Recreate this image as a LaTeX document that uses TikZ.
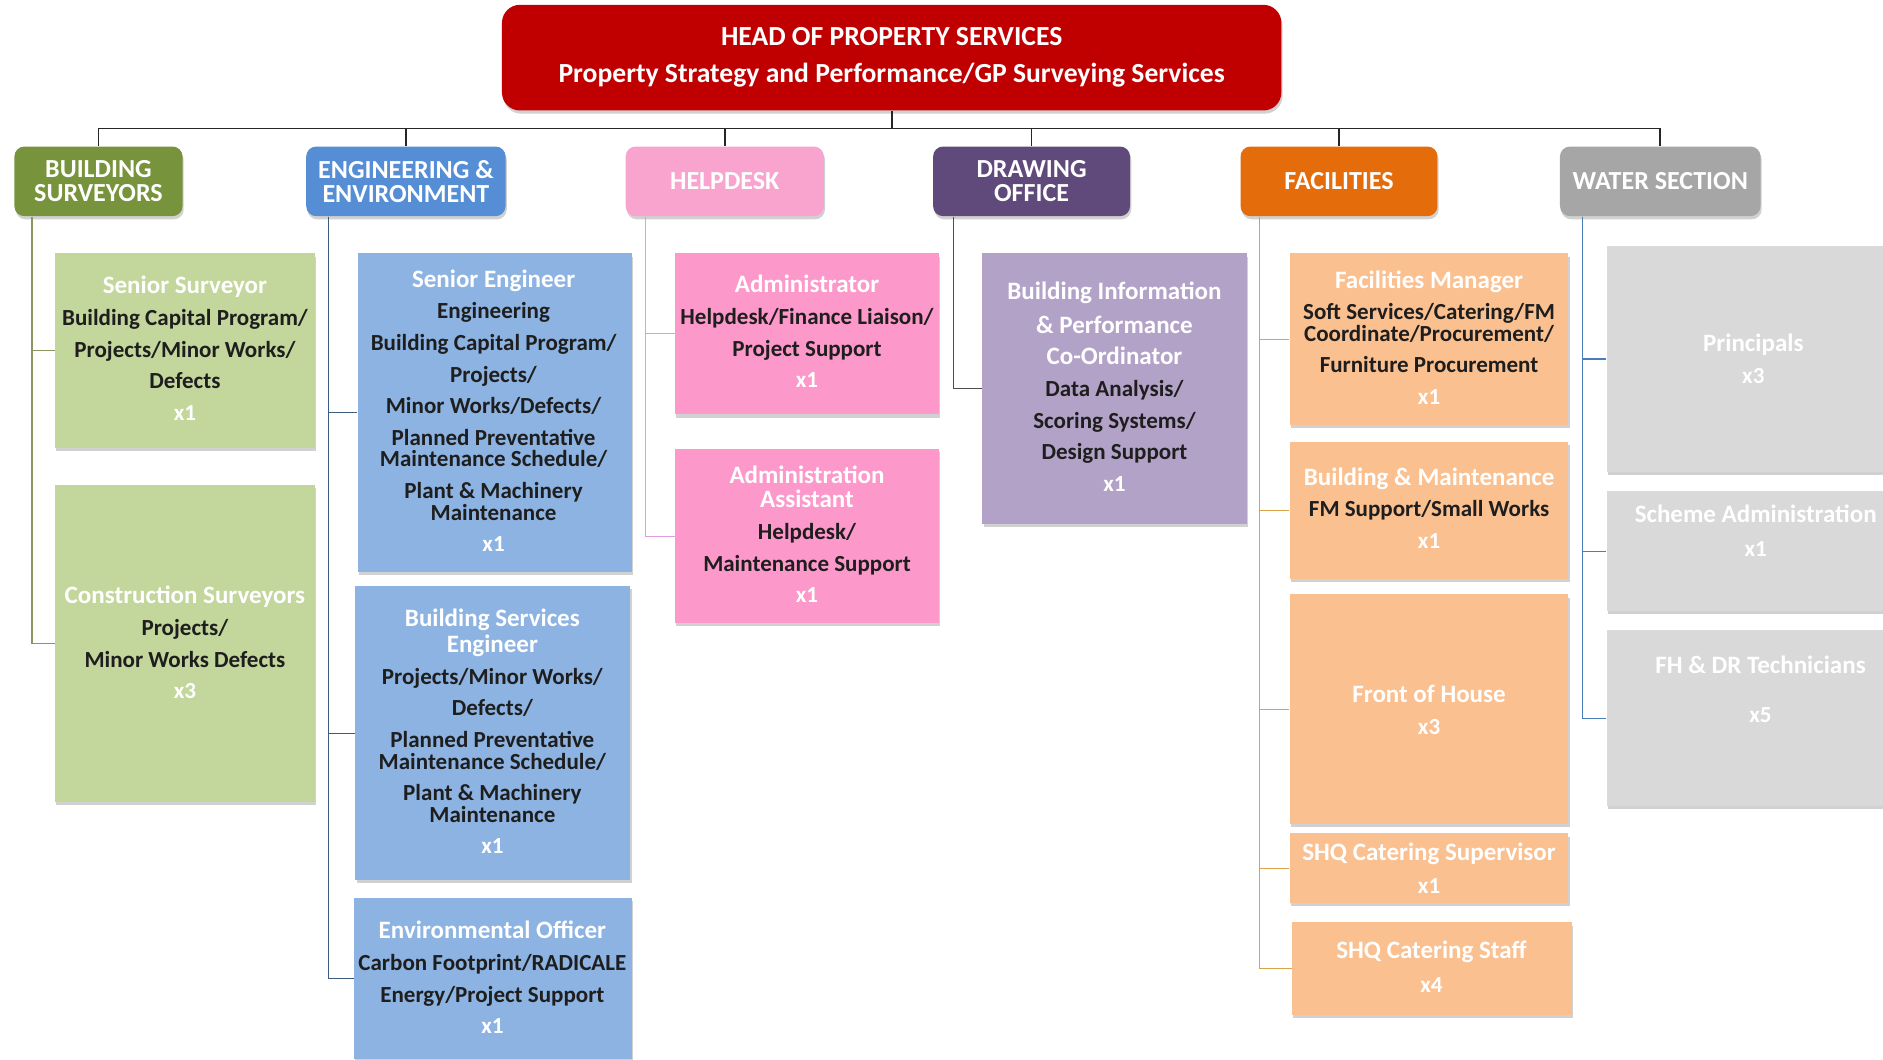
\documentclass[tikz,border=0pt]{standalone}
\usepackage{fontspec}
\setmainfont{Carlito}
\usetikzlibrary{calc, fit, shadows, positioning}

\definecolor{headred}{HTML}{C00000}
\definecolor{bsdark}{HTML}{77933C}
\definecolor{bslight}{HTML}{C3D69B}
\definecolor{eedark}{HTML}{558ED5}
\definecolor{eelight}{HTML}{8DB3E2}
\definecolor{hddark}{HTML}{F9A3CF}
\definecolor{hdlight}{HTML}{FC98CA}
\definecolor{dodark}{HTML}{604A7B}
\definecolor{dolight}{HTML}{B3A2C7}
\definecolor{facdark}{HTML}{E46C0A}
\definecolor{faclight}{HTML}{FAC090}
\definecolor{wsdark}{HTML}{A6A6A6}
\definecolor{wslight}{HTML}{D9D9D9}
\definecolor{inktext}{HTML}{1E1E1E}
\definecolor{busgray}{HTML}{262626}
\definecolor{bsline}{HTML}{8C9660}
\definecolor{eeline}{HTML}{3E5C80}
\definecolor{hdline}{HTML}{E29AE0}
\definecolor{doline}{HTML}{4D4D4D}
\definecolor{facline}{HTML}{D9A24A}
\definecolor{wsline}{HTML}{4A7EBB}

\newcommand{\ttl}[1]{{\fontsize{12.5}{12}\selectfont\color{white}#1}}
\newcommand{\cnt}[1]{\textcolor{white}{#1}}

\tikzset{
  boxshadow/.style={drop shadow={shadow xshift=0.6pt, shadow yshift=-1.6pt, opacity=0.3, fill=black!60}},
  headbox/.style={inner sep=0pt, rounded corners=9pt, fill=headred, boxshadow},
  deptbox/.style={inner sep=0pt, rounded corners=5pt, boxshadow},
  rolebox/.style={inner sep=0pt, boxshadow},
  headtxt/.style={align=center, text=white, font=\fontsize{13.8}{14}\selectfont\bfseries},
  depttxt/.style={align=center, text=white, font=\fontsize{13}{12}\selectfont\bfseries},
  roletxt/.style={align=center, text=inktext, inner sep=0pt, font=\fontsize{11.5}{10.8}\selectfont\bfseries},
  busline/.style={draw=busgray, line width=0.9pt},
  subline/.style={line width=0.6pt}
}

\begin{document}
\begin{tikzpicture}[x=0.6pt, y=-0.6pt]
\useasboundingbox (0,0) rectangle (1568,882);
\clip (0,0) rectangle (1568,882);

% head of service
\node[headbox, fit={(418,4) (1067,92)}] (head) {};
\node[headtxt] (head-t) at (head) {HEAD OF PROPERTY SERVICES\\[4.4pt]Property Strategy and Performance/GP Surveying Services};

% departments
\node[deptbox, fill=bsdark, fit={(12,122) (152,180)}] (bs) {};
\node[deptbox, fill=eedark, fit={(255,122) (421,180)}] (ee) {};
\node[deptbox, fill=hddark, fit={(521,122) (686,180)}] (hd) {};
\node[deptbox, fill=dodark, fit={(777,122) (941,180)}] (dof) {};
\node[deptbox, fill=facdark, fit={(1033,122) (1197,180)}] (fac) {};
\node[deptbox, fill=wsdark, fit={(1299,122) (1466,180)}] (ws) {};
\node[depttxt] (bs-t) at (bs) {BUILDING\\SURVEYORS};
\node[depttxt] (ee-t) at (ee) {ENGINEERING \&\\ENVIRONMENT};
\node[depttxt] (hd-t) at (hd) {HELPDESK};
\node[depttxt] (dof-t) at (dof) {DRAWING\\OFFICE};
\node[depttxt] (fac-t) at (fac) {FACILITIES};
\node[depttxt] (ws-t) at (ws) {WATER SECTION};

\coordinate (bus) at (742.5,107);
\draw[busline] (head.south) -- (bus);
\foreach \d in {bs,ee,hd,dof,fac,ws}
  \draw[busline] (bus) -| (\d.north);

% building surveyors
\node[rolebox, fill=bslight, fit={(46,211) (262,373)}] (ss) {};
\node[rolebox, fill=bslight, fit={(46,404) (262,668)}] (cs) {};
\node[roletxt] (ss-t) at (154,290) {\ttl{Senior Surveyor}\\[5pt]Building Capital Program/\\[5pt]Projects/Minor Works/\\[5pt]Defects\\[5pt]\cnt{x1}};
\node[roletxt] (cs-t) at (154,535) {\ttl{Construction Surveyors}\\[5pt]Projects/\\[5pt]Minor Works Defects\\[5pt]\cnt{x3}};

% engineering & environment
\node[rolebox, fill=eelight, fit={(298,211) (526,476)}] (se) {};
\node[rolebox, fill=eelight, fit={(296,488) (525,733)}] (bse) {};
\node[rolebox, fill=eelight, fit={(295,748) (526,882)}] (eo) {};
\node[roletxt] (se-t) at (411,342) {\ttl{Senior Engineer}\\[5pt]Engineering\\[5pt]Building Capital Program/\\[5pt]Projects/\\[5pt]Minor Works/Defects/\\[5pt]Planned Preventative\\Maintenance Schedule/\\[5pt]Plant \& Machinery\\Maintenance\\[5pt]\cnt{x1}};
\node[roletxt] (bse-t) at (410,609) {\ttl{Building Services}\\[1.2pt]\ttl{Engineer}\\[5pt]Projects/Minor Works/\\[5pt]Defects/\\[5pt]Planned Preventative\\Maintenance Schedule/\\[5pt]Plant \& Machinery\\Maintenance\\[5pt]\cnt{x1}};
\node[roletxt] (eo-t) at (410,814) {\ttl{Environmental Officer}\\[5pt]Carbon Footprint/RADICALE\\[5pt]Energy/Project Support\\[5pt]\cnt{x1}};

% helpdesk
\node[rolebox, fill=hdlight, fit={(562,211) (782,345)}] (adm) {};
\node[rolebox, fill=hdlight, fit={(562,374) (782,519)}] (aa) {};
\node[roletxt] (adm-t) at (672,276) {\ttl{Administrator}\\[5pt]Helpdesk/Finance Liaison/\\[5pt]Project Support\\[5pt]\cnt{x1}};
\node[roletxt] (aa-t) at (672,445) {\ttl{Administration}\\[1.2pt]\ttl{Assistant}\\[5pt]Helpdesk/\\[5pt]Maintenance Support\\[5pt]\cnt{x1}};

% drawing office
\node[rolebox, fill=dolight, fit={(818,211) (1038,436)}] (bip) {};
\node[roletxt] (bip-t) at (928,322) {\ttl{Building Information}\\[5pt]\ttl{\& Performance}\\[5pt]\ttl{Co-Ordinator}\\[5pt]Data Analysis/\\[5pt]Scoring Systems/\\[5pt]Design Support\\[5pt]\cnt{x1}};

% facilities
\node[rolebox, fill=faclight, fit={(1074,211) (1306,354)}] (fm) {};
\node[rolebox, fill=faclight, fit={(1074,368) (1306,482)}] (bm) {};
\node[rolebox, fill=faclight, fit={(1074,495) (1306,686)}] (foh) {};
\node[rolebox, fill=faclight, fit={(1074,694) (1306,752)}] (sup) {};
\node[rolebox, fill=faclight, fit={(1076,768) (1309,845)}] (stf) {};
\node[roletxt] (fm-t) at (1190,281) {\ttl{Facilities Manager}\\[5pt]Soft Services/Catering/FM\\Coordinate/Procurement/\\[5pt]Furniture Procurement\\[5pt]\cnt{x1}};
\node[roletxt] (bm-t) at (1190,423) {\ttl{Building \& Maintenance}\\[5pt]FM Support/Small Works\\[5pt]\cnt{x1}};
\node[roletxt] (foh-t) at (1190,591) {\ttl{Front of House}\\[5pt]\cnt{x3}};
\node[roletxt] (sup-t) at (1190,723) {\ttl{SHQ Catering Supervisor}\\[6pt]\cnt{x1}};
\node[roletxt] (stf-t) at (1192,805) {\ttl{SHQ Catering Staff}\\[6pt]\cnt{x4}};

% water section
\node[rolebox, fill=wslight, fit={(1338,205) (1590,393)}] (pr) {};
\node[rolebox, fill=wslight, fit={(1338,409) (1590,509)}] (sa) {};
\node[rolebox, fill=wslight, fit={(1338,525) (1590,671)}] (fh) {};
\node[roletxt] (pr-t) at (1460,299) {\ttl{Principals}\\[5pt]\cnt{x3}};
\node[roletxt] (sa-t) at (1462,442) {\ttl{Scheme Administration}\\[6pt]\cnt{x1}};
\node[roletxt] (fh-t) at (1466,574) {\ttl{FH \& DR Technicians}\\[14pt]\cnt{x5}};

% reporting lines
\coordinate (bs-x) at ($(bs.south west)+(15,0)$);
\coordinate (ee-x) at ($(ee.south west)+(19,0)$);
\coordinate (hd-x) at ($(hd.south west)+(17,0)$);
\coordinate (dof-x) at ($(dof.south west)+(17,0)$);
\coordinate (fac-x) at ($(fac.south west)+(16,0)$);
\coordinate (ws-x) at ($(ws.south west)+(19,0)$);
\foreach \n in {ss,cs} \draw[subline, draw=bsline] (bs-x) |- (\n.west);
\foreach \n in {se,bse,eo} \draw[subline, draw=eeline] (ee-x) |- (\n.west);
\foreach \n in {adm,aa} \draw[subline, draw=hdline] (hd-x) |- (\n.west);
\draw[subline, draw=doline] (dof-x) |- (bip.west);
\foreach \n in {fm,bm,foh,sup,stf} \draw[subline, draw=facline] (fac-x) |- (\n.west);
\foreach \n in {pr,sa,fh} \draw[subline, draw=wsline] (ws-x) |- (\n.west);
\end{tikzpicture}
\end{document}
